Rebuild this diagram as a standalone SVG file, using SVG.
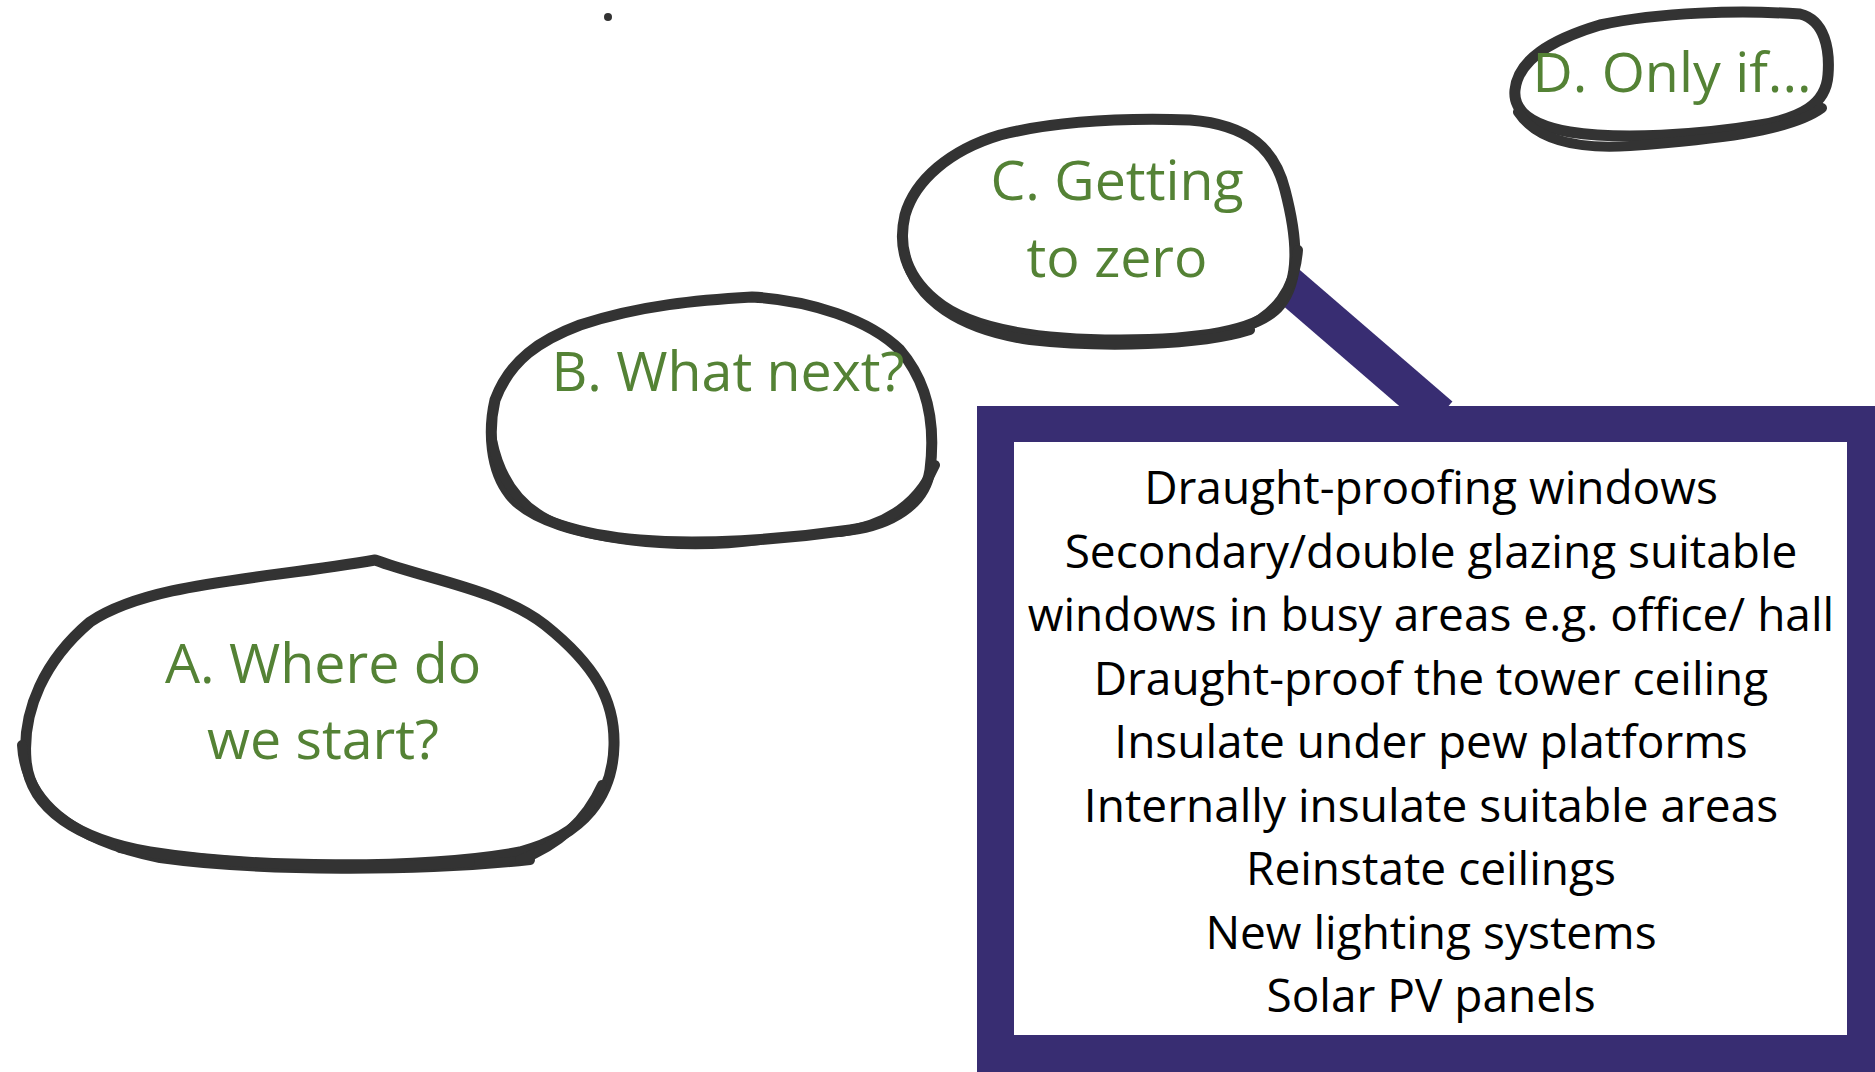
<svg xmlns="http://www.w3.org/2000/svg" width="1875" height="1072" viewBox="0 0 1875 1072">
<style>
.bub{fill:#fff;stroke:#333;stroke-width:11;stroke-linejoin:round;stroke-linecap:round}
.sk{fill:none;stroke:#333;stroke-width:10;stroke-linecap:round;stroke-linejoin:round}
.gt{font-family:"Open Sans","Noto Sans",sans-serif;font-size:55.5px;fill:#548235;text-anchor:middle}
.bt{font-family:"Open Sans","Noto Sans",sans-serif;font-size:46px;fill:#000;text-anchor:middle}
</style>
<rect width="1875" height="1072" fill="#fff"/>
<g id="connectors">
<line x1="1440" y1="416" x2="1265" y2="265" stroke="#382d72" stroke-width="38"/>
</g>
<circle cx="608" cy="17" r="4" fill="#333"/>
<g id="nodeA">
<path class="bub" d="M 375,560 C 430,580 500,590 545,625 C 595,665 615,700 614,745 C 613,795 585,835 520,852 C 420,870 250,868 150,852 C 80,840 30,810 26,760 C 22,710 45,660 90,622 C 150,582 260,580 375,560 Z"/>
<path class="sk" d="M 22,745 C 25,800 70,840 160,858 C 260,872 420,872 530,860"/>
<path class="sk" d="M 120,848 C 250,870 400,868 470,862 M 602,785 C 587,818 560,845 520,860"/>
<text class="gt" x="323" y="683">A. Where do</text>
<text class="gt" x="323" y="759">we start?</text>
</g>
<g id="nodeB">
<path class="bub" d="M 752,297 C 810,300 870,320 900,350 C 930,385 935,430 930,470 C 925,505 890,525 850,530 C 780,540 700,545 640,540 C 580,535 530,520 510,495 C 490,470 488,430 495,400 C 510,360 540,340 580,325 C 640,305 700,300 752,297 Z"/>
<path class="sk" d="M 492,440 C 500,480 520,510 560,525 C 620,545 700,548 760,540 M 935,465 C 920,500 890,525 840,532"/>
<text class="gt" x="728" y="391">B. What next?</text>
</g>
<g id="nodeC">
<path class="bub" d="M 1190,120 C 1250,125 1275,150 1285,190 C 1298,240 1300,280 1280,305 C 1260,330 1200,340 1120,340 C 1040,340 970,330 935,300 C 905,275 898,245 905,215 C 915,180 950,150 1000,135 C 1060,120 1130,118 1190,120 Z"/>
<path class="sk" d="M 905,255 C 915,300 960,330 1030,340 C 1100,348 1200,346 1250,330 M 1298,250 C 1295,290 1275,315 1240,330"/>
<text class="gt" x="1117" y="200">C. Getting</text>
<text class="gt" x="1117" y="277">to zero</text>
</g>
<g id="nodeD">
<path class="bub" d="M 1800,14 C 1825,20 1830,50 1828,75 C 1826,105 1800,118 1760,125 C 1700,135 1620,140 1570,132 C 1530,125 1513,110 1515,90 C 1518,60 1550,40 1600,25 C 1660,12 1740,10 1800,14 Z"/>
<path class="sk" d="M 1518,112 C 1535,138 1570,150 1630,146 C 1710,140 1790,132 1822,108"/>
<text class="gt" x="1672" y="92">D. Only if...</text>
</g>
<g id="callout">
<rect x="977" y="406" width="920" height="690" fill="#382d72"/>
<rect x="1014" y="442" width="833" height="593" fill="#fff"/>
<text class="bt" x="1431" y="504">Draught-proofing windows</text>
<text class="bt" x="1431" y="567.5">Secondary/double glazing suitable</text>
<text class="bt" x="1431" y="631">windows in busy areas e.g. office/ hall</text>
<text class="bt" x="1431" y="694.5">Draught-proof the tower ceiling</text>
<text class="bt" x="1431" y="758">Insulate under pew platforms</text>
<text class="bt" x="1431" y="821.5">Internally insulate suitable areas</text>
<text class="bt" x="1431" y="885">Reinstate ceilings</text>
<text class="bt" x="1431" y="948.5">New lighting systems</text>
<text class="bt" x="1431" y="1012">Solar PV panels</text>
</g>
</svg>
